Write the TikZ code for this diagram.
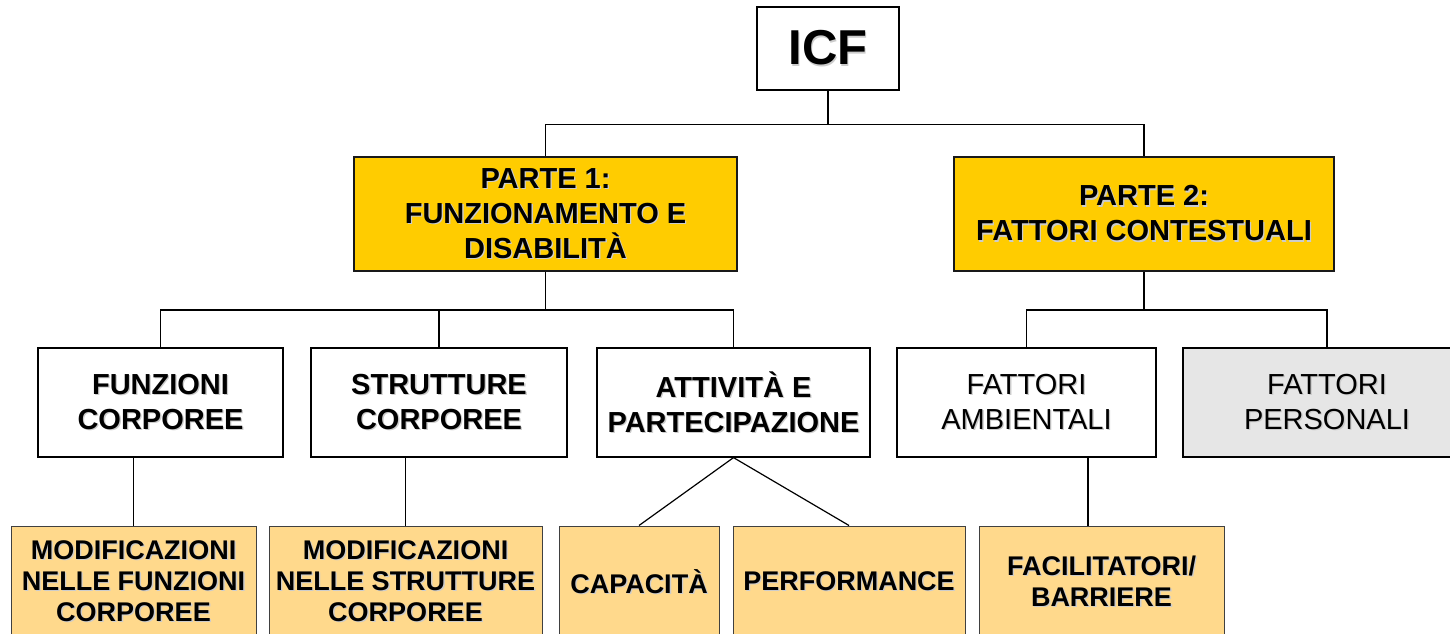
\documentclass[tikz,border=0pt]{standalone}
\usepackage{fontspec}
\setmainfont{Liberation Sans}
\usepackage{tikz}
\usetikzlibrary{positioning}
\definecolor{gold}{HTML}{FFCC00}
\definecolor{peach}{HTML}{FFD98C}
\definecolor{lightgrey}{HTML}{E6E6E6}
\newcommand{\shtext}[1]{\rlap{\kern1.3pt\raisebox{-1.3pt}{\textcolor{black!20}{#1}}}#1}
\tikzset{
  box/.style = {rectangle, draw=black, inner sep=0pt, align=center,
    text centered, line width=1.2pt},
  root/.style = {box, minimum width=142pt, minimum height=83pt,
    font=\fontsize{49}{56}\selectfont\bfseries},
  parte/.style = {box, fill=gold, draw=black!90, line width=2pt,
    minimum height=114pt, font=\fontsize{29}{35}\selectfont\bfseries},
  area/.style = {box, minimum height=109pt,
    font=\fontsize{29}{35}\selectfont\bfseries},
  fattori/.style = {area, font=\fontsize{29}{35}\selectfont},
  voce/.style = {box, fill=peach, draw=black!75, line width=1pt,
    minimum height=112pt, font=\fontsize{27}{31}\selectfont\bfseries}
}
\begin{document}
\begin{tikzpicture}[x=1pt, y=-1pt, line width=1.2pt]
\useasboundingbox (0,0) rectangle (1450,634);
\node [root] (icf) at (828,48.5) {\shtext{ICF}};
\node [parte, minimum width=383pt] (p1) at (545.5,214)
  {\shtext{PARTE 1:}\\\shtext{FUNZIONAMENTO E}\\\shtext{DISABILITÀ}};
\node [parte, minimum width=380pt] (p2) at (1144,214)
  {\shtext{PARTE 2:}\\\shtext{FATTORI CONTESTUALI}};
% secondo livello
\node [area, minimum width=245pt] (funz) at (160.5,402.5)
  {\shtext{FUNZIONI}\\\shtext{CORPOREE}};
\node [area, minimum width=256pt] (strut) at (439,402.5)
  {\shtext{STRUTTURE}\\\shtext{CORPOREE}};
\node [area, minimum width=273pt] (att) at (733.5,402.5)
  {\shtext{ATTIVITÀ E}\\\shtext{PARTECIPAZIONE}};
\node [fattori, minimum width=259pt] (amb) at (1026.5,402.5)
  {\shtext{FATTORI}\\\shtext{AMBIENTALI}};
\node [fattori, fill=lightgrey, minimum width=288pt] (pers) at (1327,402.5)
  {\shtext{FATTORI}\\\shtext{PERSONALI}};
% terzo livello
\node [voce, minimum width=245pt] (modf) at (133.5,582)
  {\shtext{MODIFICAZIONI}\\\shtext{NELLE FUNZIONI}\\\shtext{CORPOREE}};
\node [voce, minimum width=273pt] (mods) at (405.5,582)
  {\shtext{MODIFICAZIONI}\\\shtext{NELLE STRUTTURE}\\\shtext{CORPOREE}};
\node [voce, minimum width=160pt] (cap) at (639,582) {\shtext{CAPACITÀ}};
\node [voce, minimum width=232pt] (perf) at (849,582) {\shtext{PERFORMANCE}};
\node [voce, minimum width=245pt] (fac) at (1101.5,582)
  {\shtext{FACILITATORI/}\\\shtext{BARRIERE}};
% collegamenti
\foreach \k in {p1,p2}
  \draw (icf.south) -- ++(0,34) -| (\k.north);
\foreach \k in {funz,strut,att}
  \draw (p1.south) -- ++(0,38) -| (\k.north);
\foreach \k in {amb,pers}
  \draw (p2.south) -- ++(0,38) -| (\k.north);
\draw (modf.north) -- (modf.north |- funz.south);
\draw (mods.north) -- (mods.north |- strut.south);
\draw (att.south) -- (cap.north);
\draw (att.south) -- (perf.north);
\draw ([xshift=61.5pt]amb.south) -- ([xshift=61.5pt]amb.south |- fac.north);
\end{tikzpicture}
\end{document}
